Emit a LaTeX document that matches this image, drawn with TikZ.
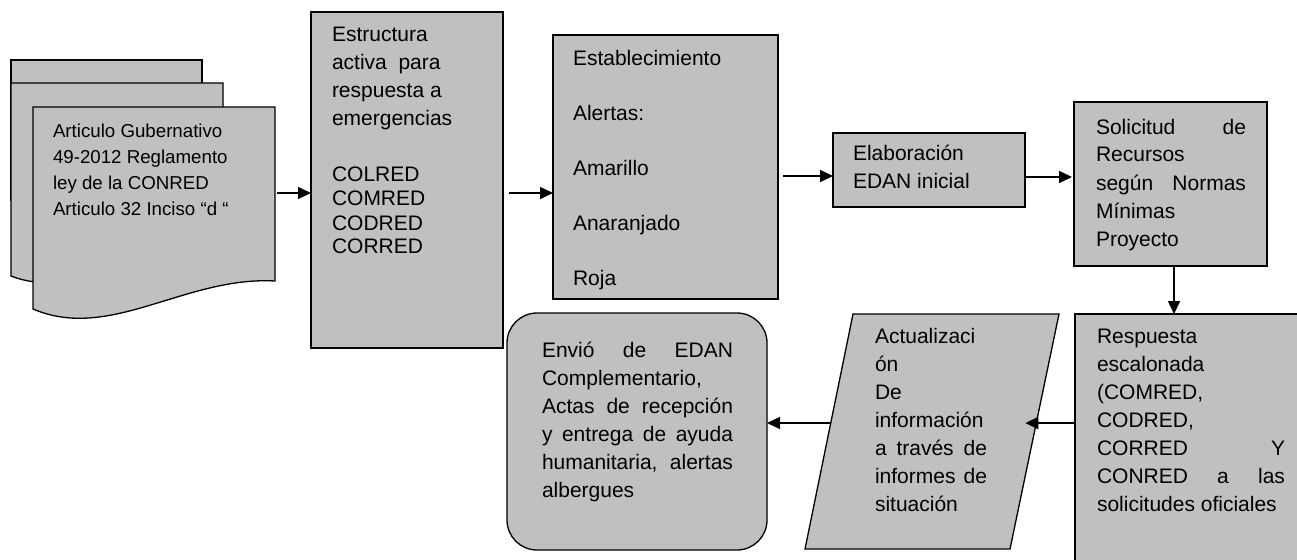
\documentclass[tikz,border=0pt]{standalone}
\usepackage{fontspec}
\setmainfont{Liberation Sans}
\usetikzlibrary{arrows.meta,calc}
\definecolor{boxgray}{RGB}{192,192,192}
\begin{document}
\begin{tikzpicture}[x=1pt,y=-1pt,
  shp/.style={draw=black, line width=1.3pt, fill=boxgray, line join=miter},
  box/.style={shp, rectangle, inner sep=0pt, outer sep=0pt, anchor=north west},
  arr/.style={line width=1.6pt, -{Triangle[length=13pt,width=12pt]}},
  txt/.style={anchor=base west, inner sep=0pt, outer sep=0pt, font=\fontsize{21}{28}\selectfont},
]
\useasboundingbox (0,0) rectangle (1297,559);

% multi-document
\draw[shp] (11,60) -- (202,60) -- (202,200) -- (11,200) -- cycle;
\draw[shp] (11,83) -- (223,83) -- (223,255) .. controls (150,250) and (70,300) .. (11,276) -- cycle;
\draw[shp] (33,107) -- (275,107) -- (275,281) .. controls (185,276) and (110,342) .. (33,309) -- cycle;
\node[inner sep=0pt, outer sep=0pt, minimum width=242, minimum height=202, anchor=north west] (doc) at (33,107) {};

% boxes
\node[box, minimum width=192, minimum height=336] (estr) at (311,12) {};
\node[box, minimum width=225, minimum height=264] (estab) at (553,35) {};
\node[box, minimum width=192, minimum height=74] (elab) at (833,133) {};
\node[box, minimum width=193, minimum height=164] (solic) at (1074,102) {};
\begin{scope}
\clip (0,0) rectangle (1297,559);
\node[box, minimum width=260, minimum height=290] (resp) at (1075,314) {};
\end{scope}
\node[box, rounded corners=30pt, minimum width=260, minimum height=237] (envio) at (507,313) {};

% parallelogram
\coordinate (pbl) at (805,549);
\coordinate (ptl) at (853,314);
\coordinate (ptr) at (1059,314);
\coordinate (pbr) at (1010,549);
\draw[shp] (pbl) -- (ptl) -- (ptr) -- (pbr) -- cycle;
\coordinate (pR) at ($(pbr)!0.536!(ptr)$);
\coordinate (pL) at ($(pbl)!0.536!(ptl)$);

% texts
\node[txt, font=\fontsize{18.7}{26.1}\selectfont] (tdoc) at (53,137)
  {\parbox[t]{215pt}{Articulo Gubernativo\\49-2012 Reglamento\\ley de la CONRED\\Articulo 32 Inciso “d “}};
\node[txt] (testr) at (332,42)
  {\parbox[t]{165pt}{Estructura\\activa\ \ para\\respuesta a\\emergencias\\[28pt]COLRED\\[-4pt]COMRED\\[-4pt]CODRED\\[-4pt]CORRED}};
\node[txt] (testab) at (573,66)
  {\parbox[t]{190pt}{Establecimiento\\[27pt]Alertas:\\[27pt]Amarillo\\[27pt]Anaranjado\\[27pt]Roja}};
\node[txt] (telab) at (853,160)
  {\parbox[t]{165pt}{Elaboración\\EDAN inicial}};
\node[txt] (tsolic) at (1096,134)
  {\parbox[t]{150pt}{Solicitud\hfill de\\Recursos\\según\hfill Normas\\Mínimas\\Proyecto}};
\node[txt] (tresp) at (1097,343)
  {\parbox[t]{188pt}{Respuesta\\escalonada\\(COMRED,\\CODRED,\\CORRED\hfill Y\\CONRED\hfill a\hfill las\\solicitudes oficiales}};
\node[txt] (tpar) at (875,343)
  {\parbox[t]{112pt}{Actualizaci\\ón\\De\\información\\a\hfill través\hfill de\\informes\hfill de\\situación}};
\node[txt] (tenvio) at (542,357)
  {\parbox[t]{191pt}{Envió\hfill de\hfill EDAN\\Complementario,\\Actas\hfill de\hfill recepción\\y\hfill entrega\hfill de\hfill ayuda\\humanitaria,\hfill alertas\\albergues}};

% connectors
\coordinate (ya) at (0,193);
\coordinate (yb) at (0,176);
\coordinate (yc) at (0,177);
\coordinate (yd) at (0,423);
\coordinate (xe) at (1174,0);
\draw[arr, shorten <=2pt] (doc.east |- ya) -- (estr.west |- ya);
\draw[arr, shorten <=6pt] (estr.east |- ya) -- (estab.west |- ya);
\draw[arr, shorten <=5pt] (estab.east |- yb) -- (elab.west |- yb);
\draw[arr, shorten >=2pt] (elab.east |- yc) -- (solic.west |- yc);
\draw[arr] (solic.south -| xe) -- (resp.north -| xe);
\draw[arr, shorten >=-11pt] (resp.west |- yd) -- (pR);
\draw[arr] (pL) -- (envio.east |- yd);
\end{tikzpicture}
\end{document}
